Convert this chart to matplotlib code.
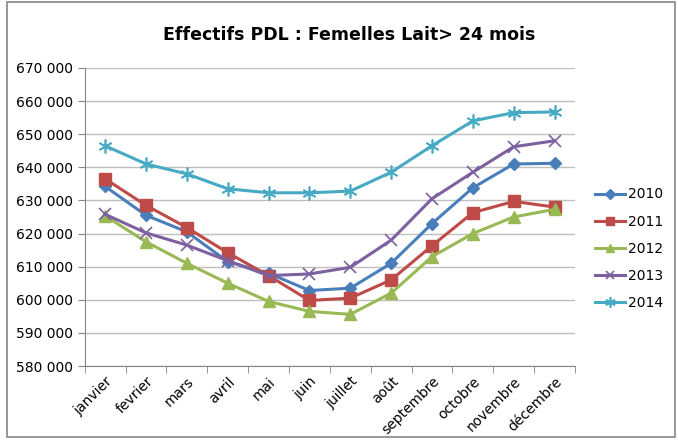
import matplotlib
matplotlib.use("Agg")
import matplotlib.pyplot as plt
from matplotlib.patches import Rectangle
from matplotlib.ticker import FuncFormatter

mois = ["janvier", "fevrier", "mars", "avril", "mai", "juin", "juillet",
        "août", "septembre", "octobre", "novembre", "décembre"]

v2010 = [634200, 625500, 620500, 611500, 608000, 602800, 603500, 611000, 623000, 633800, 641000, 641200]
v2011 = [636500, 628500, 621800, 614200, 607300, 599800, 600500, 606000, 616300, 626300, 629700, 628000]
v2012 = [625300, 617500, 611000, 605000, 599500, 596500, 595600, 602000, 613000, 620000, 625000, 627300]
v2013 = [625800, 620200, 616500, 611800, 607300, 607800, 609800, 618000, 630500, 638500, 646200, 648000]
v2014 = [646500, 641000, 638000, 633500, 632300, 632300, 632800, 638500, 646500, 654000, 656500, 656700]

series = [
    ("2010", v2010, "#4A7EBB", "D", 6.5),
    ("2011", v2011, "#BE4B48", "s", 8.5),
    ("2012", v2012, "#98B954", "^", 8.5),
    ("2013", v2013, "#7D60A0", "x", 8.5),
    ("2014", v2014, "#46AAC5", (6, 2, 0), 10),
]

fig = plt.figure(figsize=(6.78, 4.41), dpi=100)
fig.patches.append(Rectangle((0.010, 0.010), 0.985, 0.985, transform=fig.transFigure,
                             fill=False, edgecolor="#868686", linewidth=1.2))
ax = fig.add_axes([0.125, 0.170, 0.723, 0.676])

x = list(range(len(mois)))
for name, vals, col, mk, ms in series:
    if mk in ("x", (6, 2, 0)):
        ax.plot(x, vals, color=col, linewidth=2.2, marker=mk, markersize=ms,
                markeredgewidth=1.2, label=name)
    else:
        ax.plot(x, vals, color=col, linewidth=2.2, marker=mk, markersize=ms,
                markeredgecolor=col, label=name)

ax.set_xlim(-0.5, 11.5)
ax.set_ylim(580000, 670000)
ax.set_yticks(range(580000, 670001, 10000))
ax.yaxis.set_major_formatter(FuncFormatter(lambda v, p: f"{int(v):,}".replace(",", " ")))
ax.set_xticks(x)
ax.set_xticklabels(mois, rotation=45, ha="right", rotation_mode="anchor", fontsize=10)
ax.set_xticks([i - 0.5 for i in range(13)], minor=True)
ax.tick_params(axis="x", which="major", length=0, pad=6)
ax.tick_params(axis="x", which="minor", length=5, color="#868686")
ax.tick_params(axis="y", length=5, color="#868686", labelsize=10)
ax.grid(axis="y", color="#BFBFBF", linewidth=1)
ax.set_axisbelow(True)
for s in ("top", "right"):
    ax.spines[s].set_visible(False)
for s in ("left", "bottom"):
    ax.spines[s].set_color("#868686")

fig.text(0.515, 0.92, "Effectifs PDL : Femelles Lait> 24 mois", ha="center", va="center",
         fontsize=12.5, fontweight="bold")

ax.legend(loc="center left", bbox_to_anchor=(1.015, 0.393), frameon=False, fontsize=10,
          handlelength=2.2, labelspacing=0.95, handletextpad=0.2, markerscale=0.75)

fig.savefig("out.png", dpi=100)
